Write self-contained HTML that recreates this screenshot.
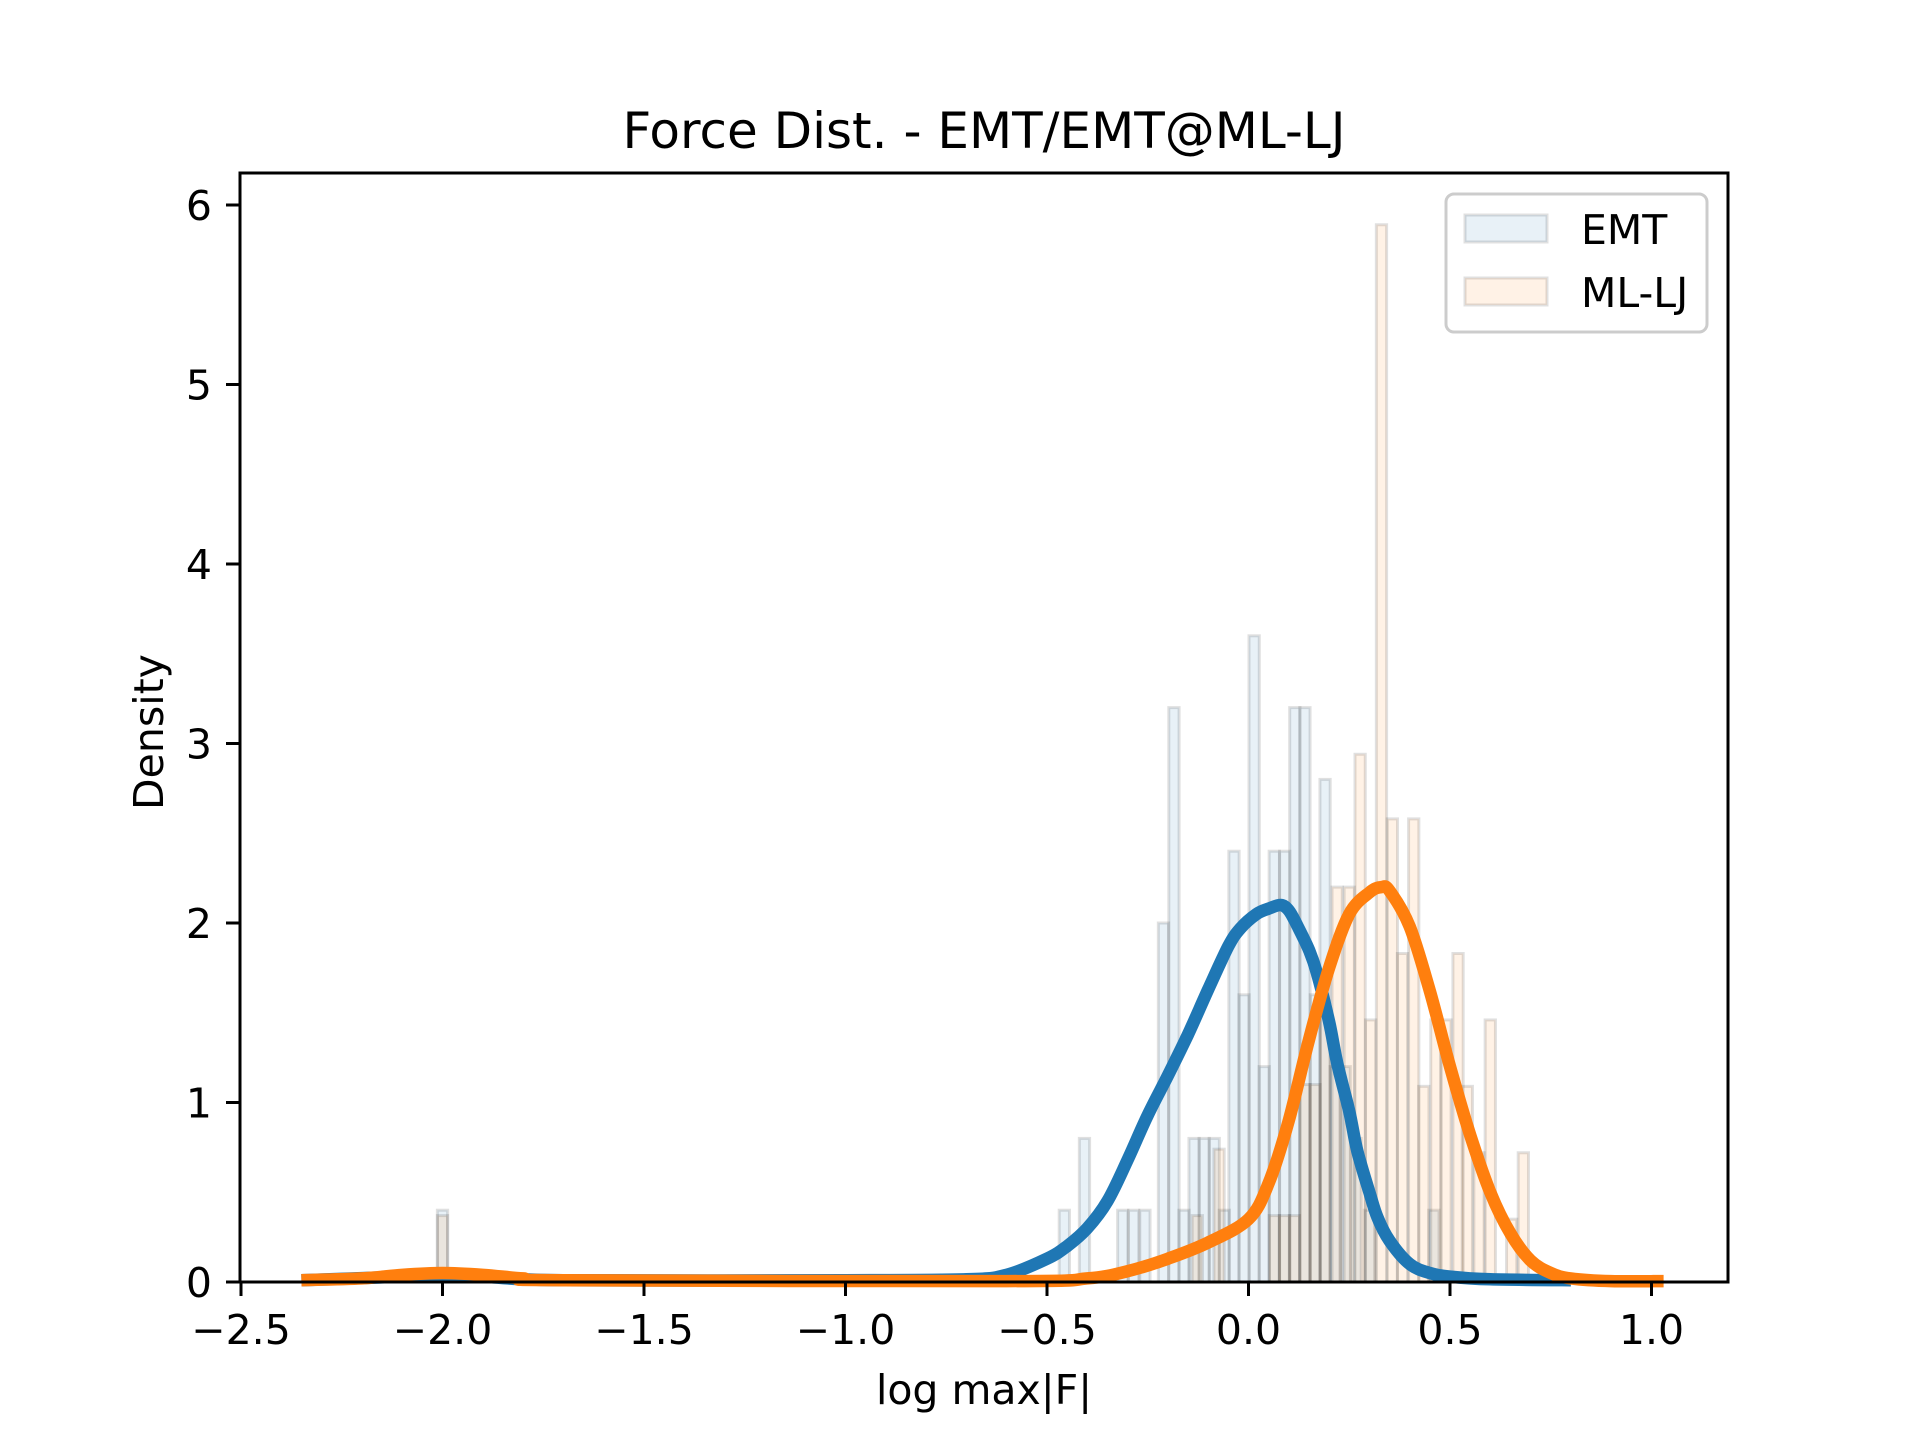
<!DOCTYPE html>
<html><head><meta charset="utf-8"><style>
html,body{margin:0;padding:0;background:#fff;}
svg{display:block;font-family:"DejaVu Sans","Liberation Sans",sans-serif;}
</style></head><body>
<svg id="chart" width="1920" height="1440" viewBox="0 0 1920 1440">
<rect x="0" y="0" width="1920" height="1440" fill="#fff"/>
<g id="bars"></g>
<g id="lines"></g>
<rect x="240" y="173" width="1488" height="1109" fill="none" stroke="#000" stroke-width="3"/>
<g id="ticks"></g>
<text x="984" y="148" font-size="50" text-anchor="middle">Force Dist. - EMT/EMT@ML-LJ</text>
<text x="984" y="1404" font-size="41" text-anchor="middle">log max|F|</text>
<text x="0" y="0" font-size="41" text-anchor="middle" transform="translate(163,732) rotate(-90)">Density</text>
<g>
<rect x="1446" y="194" width="261" height="138" rx="8" fill="#fff" fill-opacity="0.8" stroke="#ccc" stroke-width="3"/>
<g>
<rect x="1465" y="215" width="82" height="27" fill="rgba(31,119,180,0.1)" stroke="rgba(0,0,0,0.12)" stroke-width="3"/>
<text x="1581" y="244" font-size="41">EMT</text>
</g>
<g>
<rect x="1465" y="278" width="82" height="27" fill="rgba(255,127,14,0.1)" stroke="rgba(0,0,0,0.12)" stroke-width="3"/>
<text x="1581" y="307" font-size="41">ML-LJ</text>
</g>
</g>
</svg>
<script>
const emtX=[-2.0,-0.457,-0.407,-0.312,-0.285,-0.257,-0.211,-0.185,-0.16,-0.135,-0.11,-0.085,-0.06,-0.036,-0.011,0.014,0.039,0.064,0.09,0.115,0.14,0.166,0.19,0.215,0.24,0.267,0.3,0.46];
const emtH=[0.4,0.4,0.8,0.4,0.4,0.4,2.0,3.2,0.4,0.8,0.8,0.8,0.4,2.4,1.6,3.6,1.2,2.4,2.4,3.2,3.2,1.6,2.8,1.2,1.2,0.8,0.4,0.4];
const ljX=[-2.0,-0.127,-0.073,0.064,0.089,0.114,0.14,0.165,0.19,0.22,0.25,0.277,0.303,0.33,0.357,0.382,0.41,0.435,0.465,0.49,0.52,0.543,0.572,0.6,0.653,0.682];
const ljH=[0.37,0.37,0.74,0.37,0.37,0.37,1.1,1.1,1.5,2.2,2.2,2.94,1.46,5.89,2.58,1.83,2.58,1.09,1.46,1.46,1.83,1.09,0.72,1.46,0.35,0.72];
const emtKdeX=[-2.35,-2.1,-2.0,-1.9,-1.7,-1.0,-0.7,-0.6,-0.5,-0.45,-0.4,-0.35,-0.3,-0.25,-0.2,-0.15,-0.1,-0.05,-0.02,0.02,0.05,0.08,0.1,0.12,0.15,0.17,0.2,0.22,0.25,0.27,0.3,0.32,0.35,0.4,0.45,0.5,0.6,0.8];
const emtKdeY=[0.01,0.03,0.04,0.03,0.01,0.01,0.015,0.04,0.13,0.2,0.3,0.45,0.68,0.93,1.15,1.38,1.63,1.87,1.97,2.05,2.08,2.1,2.07,1.99,1.85,1.72,1.45,1.22,0.95,0.73,0.5,0.36,0.23,0.1,0.05,0.03,0.015,0.01];
const ljKdeX=[-2.35,-2.2,-2.1,-2.0,-1.9,-1.8,-1.7,-0.6,-0.4,-0.3,-0.2,-0.1,0.0,0.05,0.1,0.15,0.2,0.25,0.3,0.33,0.35,0.4,0.45,0.5,0.55,0.6,0.65,0.7,0.75,0.8,0.9,1.03];
const ljKdeY=[0.01,0.02,0.04,0.05,0.04,0.02,0.01,0.005,0.02,0.06,0.13,0.22,0.35,0.55,0.9,1.35,1.75,2.05,2.17,2.2,2.18,1.98,1.62,1.2,0.82,0.5,0.27,0.12,0.05,0.02,0.005,0.005];
const xTicks=[-2.5,-2.0,-1.5,-1.0,-0.5,0.0,0.5,1.0];
const yTicks=[0,1,2,3,4,5,6];
const binW=0.0255;

const NS='http://www.w3.org/2000/svg';
function sx(v){return 241+(v+2.5)*403;}
function sy(v){return 1282-v*179.5;}
function mk(tag,attrs,parent){const e=document.createElementNS(NS,tag);for(const k in attrs)e.setAttribute(k,attrs[k]);parent.appendChild(e);return e;}

const bars=document.getElementById('bars');
function drawHist(xs,hs,fill,name){
  xs.forEach((x,i)=>{
    const x0=sx(x-binW/2),x1=sx(x+binW/2);
    const r=mk('rect',{x:x0,y:sy(hs[i]),width:x1-x0,height:sy(0)-sy(hs[i]),fill:fill,stroke:'rgba(0,0,0,0.12)','stroke-width':3},bars);
    
    
  });
}
drawHist(emtX,emtH,'rgba(31,119,180,0.1)','emt-hist-bar');
drawHist(ljX,ljH,'rgba(255,127,14,0.1)','ml-lj-hist-bar');

const lines=document.getElementById('lines');
function drawLine(xs,ys,color,name){
  const P=xs.map((x,i)=>[sx(x),sy(ys[i])]);
  let d='M'+P[0][0].toFixed(1)+','+P[0][1].toFixed(1);
  for(let i=0;i<P.length-1;i++){
    const p0=P[Math.max(0,i-1)],p1=P[i],p2=P[i+1],p3=P[Math.min(P.length-1,i+2)];
    const c1=[p1[0]+(p2[0]-p0[0])/6,p1[1]+(p2[1]-p0[1])/6];
    const c2=[p2[0]-(p3[0]-p1[0])/6,p2[1]-(p3[1]-p1[1])/6];
    d+=' C'+c1[0].toFixed(1)+','+c1[1].toFixed(1)+' '+c2[0].toFixed(1)+','+c2[1].toFixed(1)+' '+p2[0].toFixed(1)+','+p2[1].toFixed(1);
  }
  const p=mk('path',{d:d,fill:'none',stroke:color,'stroke-width':12.5,'stroke-linejoin':'round'},lines);
  
  
}
drawLine(emtKdeX,emtKdeY,'#1f77b4','emt-kde-line');
drawLine(ljKdeX,ljKdeY,'#ff7f0e','ml-lj-kde-line');

const ticks=document.getElementById('ticks');
xTicks.forEach(v=>{
  const l=mk('line',{x1:sx(v),x2:sx(v),y1:1282,y2:1296,stroke:'#000','stroke-width':3},ticks);
  
  
  const t=mk('text',{x:sx(v),y:1344,'font-size':41,'text-anchor':'middle'},ticks);
  t.textContent=(v<0?'\u2212':'')+Math.abs(v).toFixed(1);
  
  
});
yTicks.forEach(v=>{
  const l=mk('line',{x1:226,x2:240,y1:sy(v),y2:sy(v),stroke:'#000','stroke-width':3},ticks);
  
  
  const t=mk('text',{x:212,y:sy(v)+15,'font-size':41,'text-anchor':'end'},ticks);
  t.textContent=String(v);
  
  
});
</script>
</body></html>
